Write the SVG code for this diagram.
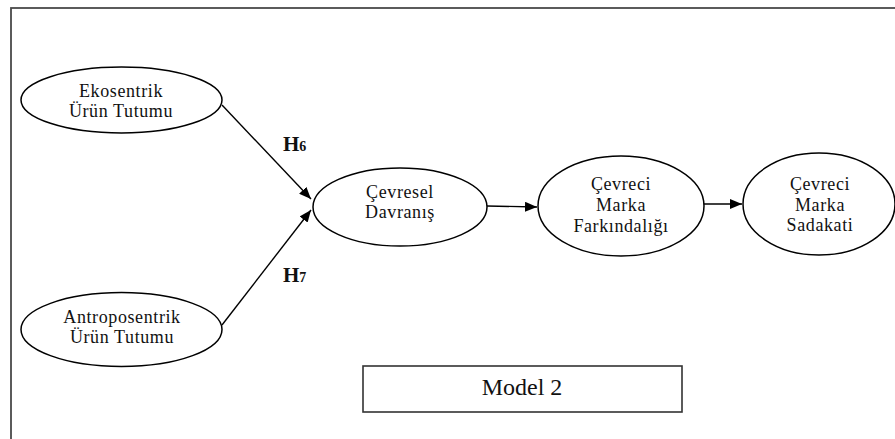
<svg xmlns="http://www.w3.org/2000/svg" width="895" height="439" viewBox="0 0 895 439">
  <style>
    .node ellipse { fill: #ffffff; stroke: #000000; stroke-width: 1.5; }
    .label { font-family: "Liberation Serif", "Times New Roman", serif; font-size: 18px; letter-spacing: 0.6px; fill: #111111; text-anchor: middle; }
    .edge { stroke: #000000; stroke-width: 1.4; fill: none; marker-end: url(#arrow); }
    .hyp { font-family: "Liberation Serif", "Times New Roman", serif; font-weight: bold; font-size: 21px; fill: #111111; }
    .sub { font-size: 14px; }
  </style>
  <defs>
    <marker id="arrow" viewBox="0 0 12 10" refX="12" refY="5" markerWidth="12" markerHeight="10" markerUnits="userSpaceOnUse" orient="auto">
      <path d="M0,0 L12,5 L0,10 Z" fill="#000000"/>
    </marker>
  </defs>

  <rect width="895" height="439" fill="#ffffff"/>
  <!-- outer frame (continues past the right and bottom edges) -->
  <rect x="11" y="8" width="900" height="450" fill="none" stroke="#4a4a4a" stroke-width="1.8"/>

  <g id="connectors">
    <line class="edge" x1="222" y1="105" x2="311" y2="199"/>
    <line class="edge" x1="222" y1="325" x2="311" y2="210"/>
    <line class="edge" x1="487" y1="206" x2="537" y2="207"/>
    <line class="edge" x1="704" y1="204" x2="742" y2="204"/>
  </g>

  <g id="hypotheses">
    <text class="hyp" x="283" y="151">H<tspan class="sub">6</tspan></text>
    <text class="hyp" x="283" y="282">H<tspan class="sub">7</tspan></text>
  </g>

  <g id="ekosentrik" class="node">
    <ellipse cx="121.5" cy="100" rx="100.5" ry="33"/>
    <text class="label" x="121" y="97">Ekosentrik</text>
    <text class="label" x="121" y="117">Ürün Tutumu</text>
  </g>

  <g id="antroposentrik" class="node">
    <ellipse cx="121.5" cy="329.5" rx="100.5" ry="37"/>
    <text class="label" x="122" y="323">Antroposentrik</text>
    <text class="label" x="122" y="343">Ürün Tutumu</text>
  </g>

  <g id="cevresel-davranis" class="node">
    <ellipse cx="400" cy="207" rx="87" ry="39"/>
    <text class="label" x="400" y="198">Çevresel</text>
    <text class="label" x="400" y="218">Davranış</text>
  </g>

  <g id="marka-farkindaligi" class="node">
    <ellipse cx="621" cy="206" rx="83" ry="50"/>
    <text class="label" x="621" y="190">Çevreci</text>
    <text class="label" x="621" y="211">Marka</text>
    <text class="label" x="621" y="232">Farkındalığı</text>
  </g>

  <g id="marka-sadakati" class="node">
    <ellipse cx="819" cy="204" rx="76" ry="51"/>
    <text class="label" x="820" y="190">Çevreci</text>
    <text class="label" x="820" y="211">Marka</text>
    <text class="label" x="820" y="231">Sadakati</text>
  </g>

  <g id="model-caption">
    <rect x="363" y="366" width="319" height="46" fill="#ffffff" stroke="#333333" stroke-width="1.6"/>
    <text x="522" y="395" font-family="Liberation Serif, Times New Roman, serif" font-size="24" fill="#111111" text-anchor="middle">Model 2</text>
  </g>
</svg>
